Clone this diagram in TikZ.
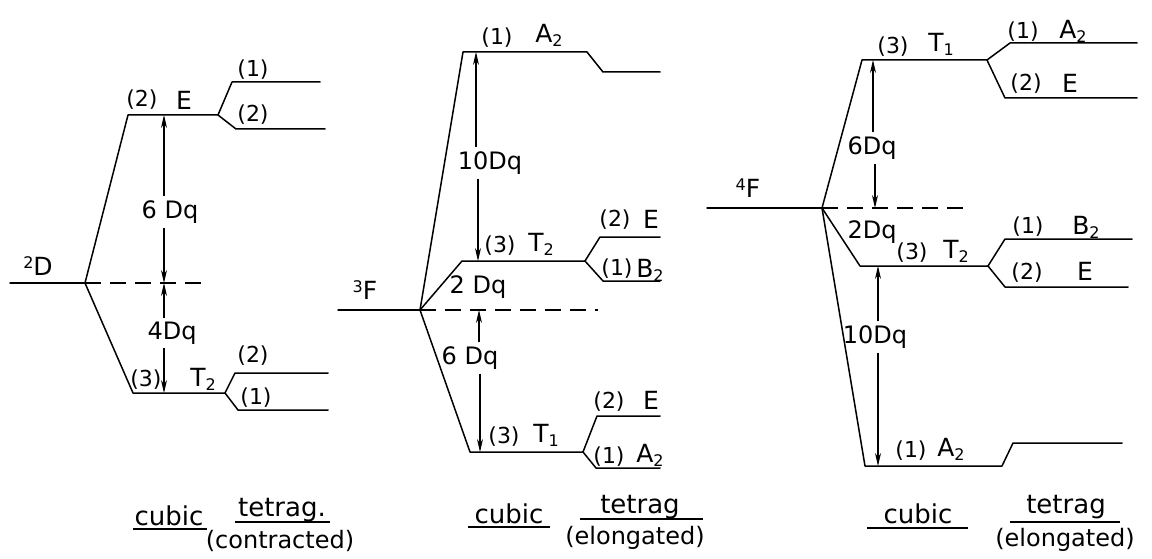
\documentclass[tikz,border=0pt]{standalone}
\usepackage{fontspec}
\setmainfont{DejaVu Sans}
\usetikzlibrary{arrows.meta}
\newcommand\lsub[1]{\raisebox{-0.3ex}{\fontsize{16}{16}\selectfont #1}}
\newcommand\lsup[1]{\raisebox{0.55ex}{\fontsize{16}{16}\selectfont #1}}
\begin{document}
\begin{tikzpicture}[x=1pt,y=-1pt,
  lvl/.style={line width=1.5pt, line cap=round, line join=round},
  dsh/.style={line width=1.5pt, dash pattern=on 16pt off 9pt},
  arr/.style={line width=1.1pt, -{Stealth[length=13pt,width=6pt]}},
  ul/.style={line width=1.4pt},
  lab/.style={font=\fontsize{22}{24}\selectfont, inner sep=0pt},
  let/.style={font=\fontsize{25}{27}\selectfont, inner sep=0pt},
  dq/.style={font=\fontsize{24}{26}\selectfont, inner sep=4pt},
  captxt/.style={font=\fontsize{26}{28}\selectfont, inner sep=0pt, anchor=base},
  subtxt/.style={font=\fontsize{24}{26}\selectfont, inner sep=0pt}]
\useasboundingbox (0,0) rectangle (1152,559);
\fill[white] (0,0) rectangle (1152,559);

% ---------------- Panel 1 : 2D ----------------
\coordinate (p1L) at (10,283);
\coordinate (p1C) at (85,283);
\coordinate (p1R) at (205,283);
\coordinate (p1Ea) at (128,115);
\coordinate (p1Eb) at (218,115);
\coordinate (p1E1a) at (232,82);
\coordinate (p1E1b) at (320,82);
\coordinate (p1E2a) at (236,129);
\coordinate (p1E2b) at (325,129);
\coordinate (p1Ta) at (133,393);
\coordinate (p1Tb) at (225,393);
\coordinate (p1T2a) at (235,373);
\coordinate (p1T2b) at (328,373);
\coordinate (p1T1a) at (238,410);
\coordinate (p1T1b) at (328,410);
\draw[lvl] (p1L) -- (p1C);
\draw[dsh] (p1C) -- (p1R);
\draw[lvl] (p1C) -- (p1Ea) -- (p1Eb) -- (p1E1a) -- (p1E1b);
\draw[lvl] (p1Eb) -- (p1E2a) -- (p1E2b);
\draw[lvl] (p1C) -- (p1Ta) -- (p1Tb) -- (p1T2a) -- (p1T2b);
\draw[lvl] (p1Tb) -- (p1T1a) -- (p1T1b);

\node[let] (n1D) at (38,266) {\lsup{2}D};
\node[lab] (n1Ep) at (142,100) {(2)};
\node[let] (n1E) at (184,100) {E};
\node[lab] (n1a) at (253,70) {(1)};
\node[lab] (n1b) at (253,115) {(2)};
\node[lab] (n1Tp) at (146,380) {(3)};
\node[let] (n1T) at (203,379) {T\lsub{2}};
\node[lab] (n1c) at (253,356) {(2)};
\node[lab] (n1d) at (256,398) {(1)};

\coordinate (p1x1) at (164,115);
\coordinate (p1x2) at (164,283);
\coordinate (p1x3) at (164,393);
\node[dq] (q1a) at (170,212) {6 Dq};
\node[dq] (q1b) at (172,333) {4Dq};
\draw[arr] (q1a.north -| p1x1) -- (p1x1);
\draw[arr] (q1a.south -| p1x2) -- (p1x2);
\draw[arr] (q1b.north -| p1x2) -- (p1x2);
\draw[arr] (q1b.south -| p1x3) -- (p1x3);

% ---------------- Panel 2 : 3F ----------------
\coordinate (p2L) at (338,310);
\coordinate (p2C) at (420,310);
\coordinate (p2R) at (598,310);
\coordinate (p2Aa) at (463,52);
\coordinate (p2Ab) at (587,52);
\coordinate (p2Ac) at (603,72);
\coordinate (p2Ad) at (660,72);
\coordinate (p2Ta) at (462,261);
\coordinate (p2Tb) at (585,261);
\coordinate (p2Eu) at (600,237);
\coordinate (p2Eu2) at (660,237);
\coordinate (p2Bd) at (603,281);
\coordinate (p2Bd2) at (660,281);
\coordinate (p2Sa) at (470,452);
\coordinate (p2Sb) at (583,452);
\coordinate (p2Su) at (597,416);
\coordinate (p2Su2) at (660,416);
\coordinate (p2Sd) at (596,468);
\coordinate (p2Sd2) at (660,468);
\draw[lvl] (p2L) -- (p2C);
\draw[dsh] (p2C) -- (p2R);
\draw[lvl] (p2C) -- (p2Aa) -- (p2Ab) -- (p2Ac) -- (p2Ad);
\draw[lvl] (p2C) -- (p2Ta) -- (p2Tb) -- (p2Eu) -- (p2Eu2);
\draw[lvl] (p2Tb) -- (p2Bd) -- (p2Bd2);
\draw[lvl] (p2C) -- (p2Sa) -- (p2Sb) -- (p2Su) -- (p2Su2);
\draw[lvl] (p2Sb) -- (p2Sd) -- (p2Sd2);

\node[let] (n2F) at (365,290) {\lsup{3}F};
\node[lab] (n2a) at (497,38) {(1)};
\node[let] (n2A) at (549,35) {A\lsub{2}};
\node[lab] (n2b) at (500,246) {(3)};
\node[let] (n2T) at (541,244) {T\lsub{2}};
\node[lab] (n2c) at (615,220) {(2)};
\node[let] (n2E) at (651,219) {E};
\node[lab] (n2d) at (617,269) {(1)};
\node[let] (n2B) at (650,270) {B\lsub{2}};
\node[lab] (n2e) at (504,437) {(3)};
\node[let] (n2S) at (546,435) {T\lsub{1}};
\node[lab] (n2f) at (609,402) {(2)};
\node[let] (n2E2) at (651,400) {E};
\node[lab] (n2g) at (609,457) {(1)};
\node[let] (n2A2) at (650,455) {A\lsub{2}};

\coordinate (p2x1) at (476,52);
\coordinate (p2x2) at (478,261);
\coordinate (p2x3) at (479,310);
\coordinate (p2x4) at (480,452);
\node[dq] (q2a) at (490,163) {10Dq};
\node[dq] (q2b) at (478,287) {2 Dq};
\node[dq] (q2c) at (470,358) {6 Dq};
\draw[arr] (q2a.north -| p2x1) -- (p2x1);
\draw[arr] (q2a.south -| p2x2) -- (p2x2);
\draw[arr] (q2c.north -| p2x3) -- (p2x3);
\draw[arr] (q2c.south -| p2x4) -- (p2x4);

% ---------------- Panel 3 : 4F ----------------
\coordinate (p3L) at (707,208);
\coordinate (p3C) at (822,208);
\coordinate (p3R) at (967,208);
\coordinate (p3Ta) at (862,60);
\coordinate (p3Tb) at (987,60);
\coordinate (p3Au) at (1010,43);
\coordinate (p3Au2) at (1137,43);
\coordinate (p3Ed) at (1005,98);
\coordinate (p3Ed2) at (1137,98);
\coordinate (p3Sa) at (860,266);
\coordinate (p3Sb) at (988,266);
\coordinate (p3Bu) at (1005,239);
\coordinate (p3Bu2) at (1132,239);
\coordinate (p3Sd) at (1005,287);
\coordinate (p3Sd2) at (1128,287);
\coordinate (p3Aa) at (865,466);
\coordinate (p3Ab) at (1002,466);
\coordinate (p3Ac) at (1013,443);
\coordinate (p3Ad) at (1122,443);
\draw[lvl] (p3L) -- (p3C);
\draw[dsh] (p3C) -- (p3R);
\draw[lvl] (p3C) -- (p3Ta) -- (p3Tb) -- (p3Au) -- (p3Au2);
\draw[lvl] (p3Tb) -- (p3Ed) -- (p3Ed2);
\draw[lvl] (p3C) -- (p3Sa) -- (p3Sb) -- (p3Bu) -- (p3Bu2);
\draw[lvl] (p3Sb) -- (p3Sd) -- (p3Sd2);
\draw[lvl] (p3C) -- (p3Aa) -- (p3Ab) -- (p3Ac) -- (p3Ad);

\node[let] (n3F) at (748,188) {\lsup{4}F};
\node[lab] (n3a) at (893,47) {(3)};
\node[let] (n3T) at (941,44) {T\lsub{1}};
\node[lab] (n3b) at (1023,32) {(1)};
\node[let] (n3A) at (1073,31) {A\lsub{2}};
\node[lab] (n3c) at (1026,84) {(2)};
\node[let] (n3E) at (1070,83) {E};
\node[lab] (n3d) at (912,253) {(3)};
\node[let] (n3T2) at (956,251) {T\lsub{2}};
\node[lab] (n3e) at (1028,227) {(1)};
\node[let] (n3B) at (1086,227) {B\lsub{2}};
\node[lab] (n3f) at (1027,273) {(2)};
\node[let] (n3E2) at (1085,271) {E};
\node[lab] (n3g) at (911,451) {(1)};
\node[let] (n3A2) at (951,449) {A\lsub{2}};

\coordinate (p3x1) at (873,60);
\coordinate (p3x2) at (875,208);
\coordinate (p3x3) at (878,266);
\coordinate (p3x4) at (878,466);
\node[dq] (q3a) at (872,148) {6Dq};
\node[dq] (q3b) at (872,232) {2Dq};
\node[dq] (q3c) at (875,337) {10Dq};
\draw[arr] (q3a.north -| p3x1) -- (p3x1);
\draw[arr] (q3a.south -| p3x2) -- (p3x2);
\draw[arr] (q3c.north -| p3x3) -- (p3x3);
\draw[arr] (q3c.south -| p3x4) -- (p3x4);

% ---------------- Captions ----------------
\node[captxt] (c1) at (169,525) {cubic};
\node[captxt] (t1) at (282,516) {tetrag.};
\node[subtxt] (s1) at (280,541) {(contracted)};
\draw[ul] (133,529) -- (207,529);
\draw[ul] (235,522) -- (330,522);

\node[captxt] (c2) at (509,523) {cubic};
\node[captxt] (t2) at (640,513) {tetrag};
\node[subtxt] (s2) at (635,538) {(elongated)};
\draw[ul] (468,527) -- (550,527);
\draw[ul] (580,519) -- (703,519);

\node[captxt] (c3) at (918,523) {cubic};
\node[captxt] (t3) at (1066,513) {tetrag};
\node[subtxt] (s3) at (1065,540) {(elongated)};
\draw[ul] (867,528) -- (968,528);
\draw[ul] (1010,522) -- (1120,522);
\end{tikzpicture}
\end{document}
